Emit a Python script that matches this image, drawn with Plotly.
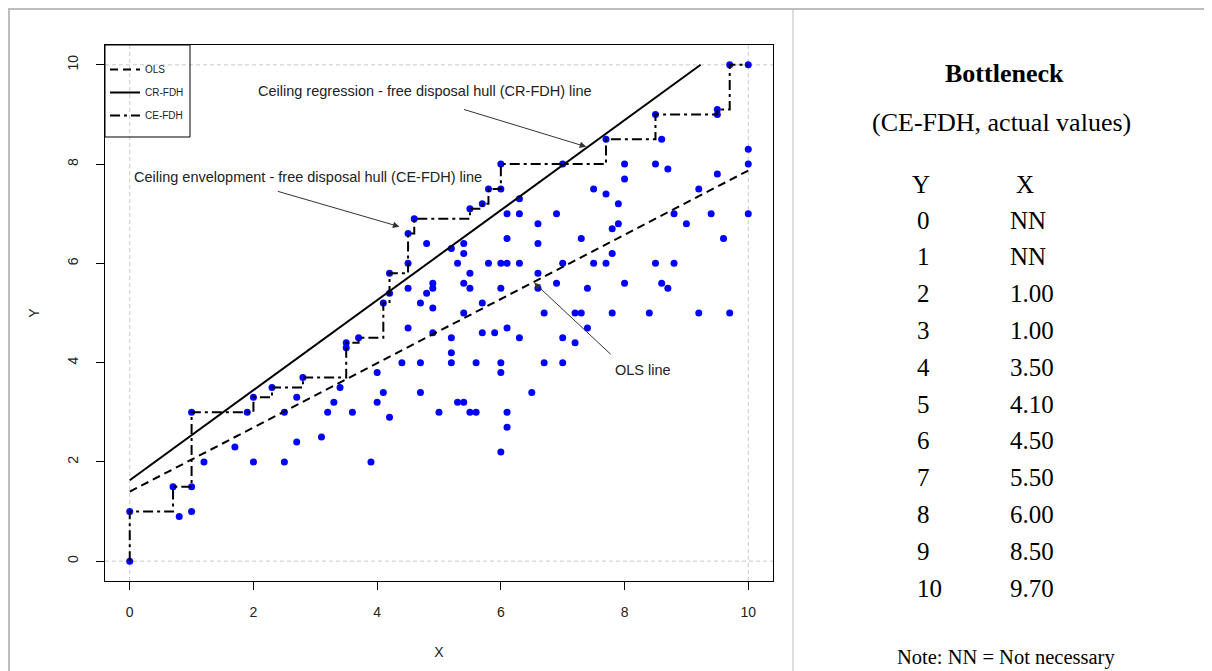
import plotly.graph_objects as go

# ---------------- data ----------------
x_vals = [0, 0, 0.7, 0.8, 1, 1, 1, 1.2, 1.7, 1.9, 2, 2, 2.3, 2.5, 2.5, 2.7, 2.7, 2.8,
          3.1, 3.2, 3.3, 3.4, 3.5, 3.5, 3.6, 3.7, 3.9, 4.0, 4.0, 4.1, 4.2, 4.1, 4.2, 4.2,
          4.5, 4.5, 4.5, 4.4, 4.7, 4.7, 4.7, 4.8, 4.6, 4.5, 4.8,
          5.5, 5.7, 5.8, 6.0, 6.0, 7.0, 7.7, 8.6, 8.5, 9.5, 9.5, 9.7, 10, 10, 10, 10,
          8.0, 8.0, 8.5, 8.7, 9.5, 9.2, 7.5, 7.7, 7.9, 7.9, 7.8, 7.8, 7.3, 6.9, 6.6, 6.6,
          6.3, 6.3, 6.1, 6.1, 5.4, 5.4, 5.2, 5.3, 5.8, 6.0, 6.1, 6.3, 7.0, 7.5, 7.7, 8.5,
          8.8, 9.4, 9.0, 8.8, 9.6, 5.5, 6.6,
          4.9, 4.9, 5.4, 5.5, 4.9, 6.0, 6.6, 6.9, 7.4, 8.0, 8.6, 8.7, 5.7, 5.4, 6.7, 7.2,
          7.3, 7.8, 8.4, 9.2, 9.7, 4.9, 5.2, 5.2, 5.7, 5.9, 6.1, 6.3, 7.0, 7.2, 7.4, 5.2,
          5.6, 6.0, 6.0, 6.7, 7.0, 6.5, 5.3, 5.4, 5.0, 5.5, 5.6, 6.1, 6.1, 6.0]
y_vals = [0, 1, 1.5, 0.9, 1, 1.5, 3, 2.0, 2.3, 3.0, 3.3, 2.0, 3.5, 3.0, 2.0, 3.3, 2.4, 3.7,
          2.5, 3.0, 3.2, 3.5, 4.4, 4.3, 3.0, 4.5, 2.0, 3.8, 3.2, 3.4, 2.9, 5.2, 5.4, 5.8,
          6.0, 5.5, 4.7, 4.0, 4.0, 3.4, 5.2, 5.4, 6.9, 6.6, 6.4,
          7.1, 7.2, 7.5, 7.5, 8.0, 8.0, 8.5, 8.5, 9.0, 9.0, 9.1, 10, 10, 8.3, 8.0, 7.0,
          8.0, 7.7, 8.0, 7.9, 7.8, 7.5, 7.5, 7.4, 7.2, 6.8, 6.7, 6.2, 6.5, 7.0, 6.8, 6.4,
          7.3, 7.0, 7.0, 6.5, 6.4, 6.2, 6.3, 6.0, 6.0, 6.0, 6.0, 6.0, 6.0, 6.0, 6.0, 6.0,
          6.0, 7.0, 6.8, 7.0, 6.5, 5.8, 5.8,
          5.6, 5.5, 5.6, 5.5, 5.1, 5.5, 5.5, 5.6, 5.5, 5.6, 5.6, 5.5, 5.2, 5.0, 5.0, 5.0,
          5.0, 5.0, 5.0, 5.0, 5.0, 4.6, 4.5, 4.2, 4.6, 4.6, 4.7, 4.5, 4.5, 4.4, 4.7, 4.0,
          4.0, 4.0, 3.8, 4.0, 4.0, 3.4, 3.2, 3.2, 3.0, 3.0, 3.0, 3.0, 2.7, 2.2]

# CE-FDH peer points (step function)
peer_x = [0, 0, 0.7, 1, 2, 2.3, 2.8, 3.5, 3.7, 4.1, 4.2, 4.5, 4.6, 5.5, 5.7, 5.8, 6.0, 7.7, 8.5, 9.5, 9.7, 10]
peer_y = [0, 1, 1.5, 3, 3.3, 3.5, 3.7, 4.4, 4.5, 5.2, 5.8, 6.6, 6.9, 7.1, 7.2, 7.5, 8.0, 8.5, 9.0, 9.1, 10, 10]

# OLS and CR-FDH lines
ols_intercept, ols_slope = 1.40, 0.647
ols_x_ends = [0, 10]
cr_intercept, cr_slope = 1.63, 0.907
cr_x_ends = [0, 9.23]

x_ticks = [0, 2, 4, 6, 8, 10]
y_ticks = [0, 2, 4, 6, 8, 10]
ref_lines = [0, 10]

table_y = ["0", "1", "2", "3", "4", "5", "6", "7", "8", "9", "10"]
table_x = ["NN", "NN", "1.00", "1.00", "3.50", "4.10", "4.50", "5.50", "6.00", "8.50", "9.70"]

# ---------------- layout helpers ----------------
OFF = 8                      # page body margin of the html page
W, H = 1212 - OFF, 671 - OFF
ML, MT = 105 - OFF, 45 - OFF
MR = W - (773 - OFF)
MB = H - (581 - OFF)
PW = W - ML - MR
PH = H - MT - MB


def pxx(xp):
    """page pixel x -> paper fraction"""
    return (xp - OFF - ML) / PW


def pxy(yp):
    """page pixel y -> paper fraction"""
    return (H - MB - (yp - OFF)) / PH


SANS = "Liberation Sans, Arial, sans-serif"
SERIF = "Liberation Serif, Times New Roman, serif"

fig = go.Figure()

fig.add_trace(go.Scatter(x=x_vals, y=y_vals, mode="markers",
                         marker=dict(color="#0000ff", size=7), showlegend=False,
                         hoverinfo="skip"))

ols_y = [ols_intercept + ols_slope * v for v in ols_x_ends]
fig.add_trace(go.Scatter(x=ols_x_ends, y=ols_y, mode="lines", name="OLS",
                         legendgroup="a",
                         line=dict(color="black", width=2, dash="8px,5px")))

cr_y = [cr_intercept + cr_slope * v for v in cr_x_ends]
fig.add_trace(go.Scatter(x=cr_x_ends, y=cr_y, mode="lines", name="CR-FDH",
                         legendgroup="b",
                         line=dict(color="black", width=2)))

fig.add_trace(go.Scatter(x=peer_x, y=peer_y, mode="lines", name="CE-FDH",
                         legendgroup="c", line_shape="hv",
                         line=dict(color="black", width=2, dash="10px,4px,3px,4px")))

shapes = []
for v in ref_lines:
    shapes.append(dict(type="line", xref="x", yref="paper", x0=v, x1=v, y0=0, y1=1,
                       line=dict(color="#c8c8c8", width=1, dash="4px,3px"), layer="below"))
    shapes.append(dict(type="line", xref="paper", yref="y", x0=0, x1=1, y0=v, y1=v,
                       line=dict(color="#c8c8c8", width=1, dash="4px,3px"), layer="below"))

# legend frame
shapes.append(dict(type="rect", xref="paper", yref="paper", x0=0, x1=pxx(190),
                   y0=pxy(137), y1=1, line=dict(color="black", width=1)))

# page frame
frame = dict(color="#bdbdbd", width=2)
shapes.append(dict(type="line", xref="paper", yref="paper", x0=pxx(8), x1=pxx(1212),
                   y0=pxy(9), y1=pxy(9), line=frame))
shapes.append(dict(type="line", xref="paper", yref="paper", x0=pxx(9), x1=pxx(9),
                   y0=pxy(8), y1=pxy(671), line=frame))
shapes.append(dict(type="line", xref="paper", yref="paper", x0=pxx(793), x1=pxx(793),
                   y0=pxy(8), y1=pxy(671), line=dict(color="#bdbdbd", width=1)))

ann = []
txt_font = dict(family=SANS, size=14.5, color="#222")
ann.append(dict(x=4.77, y=9.48, xref="x", yref="y", showarrow=False,
                text="Ceiling regression - free disposal hull (CR-FDH) line", font=txt_font))
ann.append(dict(x=2.88, y=7.75, xref="x", yref="y", showarrow=False,
                text="Ceiling envelopment - free disposal hull (CE-FDH) line", font=txt_font))
ann.append(dict(x=8.30, y=3.86, xref="x", yref="y", showarrow=False,
                text="OLS line", font=txt_font))

arrows = [((5.38, 9.11), (7.38, 8.35)), ((2.37, 7.46), (4.36, 6.74)), ((7.80, 4.14), (6.54, 5.61))]
for (tx, ty), (hx, hy) in arrows:
    ann.append(dict(x=hx, y=hy, ax=tx, ay=ty, xref="x", yref="y", axref="x", ayref="y",
                    text="", showarrow=True, arrowhead=2, arrowsize=1.3, arrowwidth=1,
                    arrowcolor="#333", standoff=0, startstandoff=0))


def page_text(x, y, text, font, xanchor="center"):
    ann.append(dict(x=pxx(x), y=pxy(y), xref="paper", yref="paper", showarrow=False,
                    xanchor=xanchor, yanchor="middle", text=text, font=font))


# right panel
page_text(1004, 74, "<b>Bottleneck</b>", dict(family=SERIF, size=26, color="black"))
page_text(1002, 122, "(CE-FDH, actual values)", dict(family=SERIF, size=26, color="black"))
row_font = dict(family=SERIF, size=25, color="black")
page_text(921, 184, "Y", row_font)
page_text(1025, 184, "X", row_font)
for i, (ty, tx) in enumerate(zip(table_y, table_x)):
    yy = 220 + i * 36.8
    page_text(915, yy, ty, row_font, "left")
    page_text(1008, yy, tx, row_font, "left")
page_text(1006, 657, "Note: NN = Not necessary", dict(family=SERIF, size=20.5, color="black"))

axis_common = dict(showline=True, mirror=True, linecolor="black", linewidth=1,
                   ticks="outside", ticklen=8, tickcolor="black", tickwidth=1,
                   showgrid=False, zeroline=False,
                   tickfont=dict(family=SANS, size=14, color="#222"))

LEG_DROP = 10
fig.update_layout(
    width=W, height=H, autosize=False,
    margin=dict(l=ML, r=MR, t=MT, b=MB, pad=0),
    paper_bgcolor="white", plot_bgcolor="white",
    xaxis=dict(range=[-0.4, 10.4], tickvals=x_ticks, ticklabelstandoff=10,
               title=dict(text="X", font=dict(family=SANS, size=14, color="#222"), standoff=28),
               **axis_common),
    yaxis=dict(range=[-0.4, 10.4], tickvals=y_ticks, tickangle=-90, ticklabelstandoff=12,
               title=dict(text="Y", font=dict(family=SANS, size=14, color="#222"), standoff=22),
               **axis_common),
    legend=dict(x=0, y=1 - LEG_DROP / PH, xanchor="left", yanchor="top",
                bgcolor="rgba(0,0,0,0)", borderwidth=0, tracegroupgap=4,
                font=dict(family=SANS, size=10, color="#222"), traceorder="grouped"),
    shapes=shapes, annotations=ann,
)

fig.write_html("out.html")
